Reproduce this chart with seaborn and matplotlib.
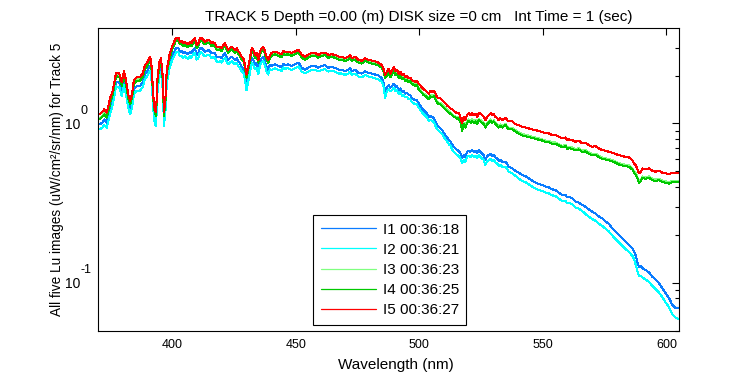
import numpy as np
import pandas as pd
import matplotlib
matplotlib.use("Agg")
import matplotlib.pyplot as plt
import matplotlib.transforms as mtransforms
import seaborn as sns
from matplotlib.ticker import LogLocator, NullFormatter

# ---------------- data ----------------
wavelength = [
    370.8, 371.8, 372.4, 373.4, 374.2, 375.0, 375.8, 377.2, 378.5, 379.5, 380.4, 381.2, 382.2, 382.9, 383.7, 384.4, 385.6,
    386.9, 388.0, 388.9, 389.9, 391.0, 391.6, 392.3, 392.9, 393.4, 393.9, 394.7, 395.4, 396.1, 396.6, 397.2, 397.7, 398.8, 399.8,
    400.7, 401.5, 402.4, 403.0, 403.7, 404.4, 405.0, 405.7, 406.4, 407.1, 407.7, 408.4, 409.1, 409.8, 410.4, 411.1, 411.8, 412.5,
    413.1, 413.8, 414.5, 415.2, 415.8, 416.5, 417.2, 417.9, 418.5, 419.2, 419.9, 420.6, 421.3, 421.9, 422.6, 423.3, 424.0, 424.6,
    425.3, 426.0, 426.7, 427.3, 428.0, 428.7, 429.4, 430.0, 430.7, 431.4, 432.1, 432.7, 433.4, 434.1, 434.8, 435.4, 436.1, 436.8,
    437.5, 438.1, 438.8, 439.5,
    440.2, 441.5, 442.9, 444.2, 444.9, 445.6, 446.9, 448.3, 449.6, 451.0, 451.7, 452.3, 453.7, 455.0, 456.4, 457.7, 459.1, 460.4,
    461.8, 463.1, 464.5, 465.8, 467.2, 468.5, 469.9, 471.3, 471.9, 472.6, 474.0, 475.3, 476.7, 478.0, 479.4, 480.7, 482.1, 483.4,
    484.8, 485.4, 486.1,
    486.9, 487.6, 488.2, 488.9, 489.6, 490.3, 490.9, 491.6, 492.3, 493.0, 493.6, 494.3, 495.0, 495.7, 496.3, 497.0, 498.4, 499.0,
    499.7, 501.1, 501.7, 502.4, 503.1, 503.8, 504.4, 505.1, 505.8, 506.5, 507.1, 507.8, 508.5, 509.2, 509.8, 510.5, 511.2, 511.9,
    512.6, 513.2, 513.9, 514.6, 515.3, 515.9, 516.6, 517.3, 517.9, 518.6, 519.3, 520.0, 520.7, 521.3, 522.0, 522.7, 523.4, 524.0,
    524.7, 525.4, 526.1, 526.7, 527.4, 528.1, 528.8, 529.4, 530.1, 530.8, 531.5, 532.1, 532.8, 533.5, 534.9, 535.5, 536.2, 537.6,
    538.9, 540.3, 541.6, 543.0, 544.3, 545.7, 547.0, 548.4, 549.7, 551.1, 552.4, 553.8, 555.1, 556.5, 557.8, 559.2, 559.9, 560.5,
    561.9, 563.2, 564.6, 565.9, 567.3, 568.6, 570.0, 571.3, 572.7, 574.0, 575.4, 576.7, 578.1, 579.4, 580.8, 582.1, 583.5, 584.8,
    586.2, 586.9, 587.5, 588.2, 588.9, 589.6, 590.3, 591.6, 593.0, 594.3, 595.7, 597.0, 598.4, 599.7, 601.1, 602.4, 603.8, 605.1,
]

lu_i1 = [
    0.99, 1.02, 1.06, 1.01, 1.14, 1.27, 1.40, 1.83, 1.81, 1.60, 1.88, 1.65, 1.33, 1.22, 1.36, 1.65, 1.72, 1.72, 1.81, 2.04,
    2.14, 2.31, 1.99, 1.29, 1.06, 1.04, 1.65, 2.14, 2.25, 1.72, 1.04, 1.29, 1.90, 2.36, 2.67,
    2.81, 2.99, 2.99, 2.83, 2.85, 2.76, 2.83, 2.76, 2.72, 2.83, 2.76, 2.90, 2.97, 2.69, 2.72, 2.97, 2.99, 2.90, 2.83, 2.85,
    2.90, 2.85, 2.76, 2.79, 2.76, 2.63, 2.60, 2.63, 2.57, 2.69, 2.76, 2.63, 2.51, 2.57, 2.63, 2.57, 2.51, 2.57, 2.45, 2.40,
    2.27, 2.22, 2.02, 1.75, 1.96, 2.22, 2.57, 2.51, 2.34, 2.40, 2.17, 2.45, 2.57, 2.63, 2.45, 2.27, 2.17, 2.34,
    2.30, 2.35, 2.30, 2.26, 2.37, 2.33, 2.35, 2.30, 2.35, 2.41, 2.33, 2.24, 2.18, 2.24, 2.30, 2.30, 2.24, 2.30, 2.32, 2.24,
    2.26, 2.24, 2.18, 2.18, 2.13, 2.18, 2.24, 2.13, 2.18, 2.08, 2.06, 2.13, 2.08, 2.06, 2.03, 2.00, 1.93, 1.84, 1.60,
    1.70, 1.74, 1.68, 1.72, 1.78, 1.70, 1.72, 1.62, 1.66, 1.58, 1.60, 1.54, 1.56, 1.51, 1.51, 1.44, 1.40, 1.40, 1.34, 1.24,
    1.21, 1.18, 1.16, 1.10, 1.11, 1.10, 1.08, 1.03, 0.977, 0.953, 0.931, 0.909, 0.874, 0.845, 0.817, 0.786, 0.768, 0.743, 0.714, 0.697,
    0.681, 0.674, 0.649, 0.604, 0.633, 0.618, 0.665, 0.671, 0.665, 0.681, 0.665, 0.674, 0.655, 0.681, 0.665, 0.649, 0.633, 0.589, 0.624, 0.633,
    0.643, 0.624, 0.633, 0.612, 0.604, 0.583, 0.589, 0.575, 0.575, 0.556, 0.535, 0.522, 0.505, 0.491, 0.474, 0.467, 0.452, 0.437, 0.425, 0.417,
    0.411, 0.401, 0.397, 0.386, 0.382, 0.368, 0.355, 0.355, 0.344, 0.347, 0.339, 0.323, 0.318, 0.308, 0.300, 0.289, 0.279, 0.273, 0.260, 0.254,
    0.242, 0.234, 0.220, 0.209, 0.1995, 0.190, 0.181, 0.173, 0.165, 0.157, 0.1495, 0.136, 0.1263, 0.1275, 0.1233, 0.1204, 0.1158, 0.1093, 0.1042, 0.0993,
    0.0924, 0.0860, 0.0800, 0.0726, 0.0692, 0.0692,
]

lu_i2 = [
    0.92, 0.95, 0.98, 0.94, 1.06, 1.18, 1.30, 1.71, 1.69, 1.49, 1.75, 1.53, 1.24, 1.14, 1.26, 1.53, 1.61, 1.61, 1.69, 1.90,
    1.99, 2.15, 1.85, 1.21, 0.99, 0.97, 1.53, 1.99, 2.10, 1.61, 0.97, 1.21, 1.77, 2.20, 2.48,
    2.63, 2.80, 2.80, 2.65, 2.67, 2.58, 2.65, 2.58, 2.54, 2.65, 2.58, 2.71, 2.78, 2.52, 2.54, 2.78, 2.80, 2.71, 2.65, 2.67,
    2.71, 2.67, 2.58, 2.62, 2.58, 2.46, 2.43, 2.46, 2.41, 2.52, 2.58, 2.46, 2.35, 2.41, 2.46, 2.41, 2.35, 2.41, 2.29, 2.24,
    2.13, 2.08, 1.89, 1.62, 1.84, 2.08, 2.41, 2.35, 2.19, 2.24, 2.03, 2.29, 2.41, 2.46, 2.29, 2.13, 2.03, 2.19,
    2.17, 2.22, 2.17, 2.14, 2.25, 2.21, 2.22, 2.17, 2.22, 2.28, 2.21, 2.12, 2.06, 2.12, 2.17, 2.17, 2.12, 2.17, 2.19, 2.12,
    2.14, 2.12, 2.06, 2.06, 2.02, 2.06, 2.12, 2.02, 2.06, 1.97, 1.95, 2.02, 1.97, 1.95, 1.92, 1.89, 1.83, 1.74, 1.45,
    1.60, 1.64, 1.59, 1.62, 1.68, 1.60, 1.62, 1.53, 1.57, 1.49, 1.51, 1.46, 1.47, 1.42, 1.42, 1.36, 1.32, 1.32, 1.26, 1.17,
    1.15, 1.12, 1.09, 1.04, 1.05, 1.04, 1.02, 0.968, 0.922, 0.900, 0.879, 0.858, 0.825, 0.798, 0.771, 0.742, 0.725, 0.691, 0.664, 0.648,
    0.633, 0.627, 0.604, 0.562, 0.589, 0.575, 0.618, 0.624, 0.618, 0.633, 0.618, 0.627, 0.609, 0.633, 0.618, 0.604, 0.589, 0.548, 0.580, 0.589,
    0.598, 0.580, 0.589, 0.569, 0.562, 0.542, 0.548, 0.535, 0.535, 0.517, 0.498, 0.485, 0.470, 0.450, 0.435, 0.428, 0.414, 0.401, 0.390, 0.382,
    0.377, 0.368, 0.364, 0.354, 0.350, 0.337, 0.326, 0.326, 0.315, 0.318, 0.311, 0.296, 0.292, 0.282, 0.270, 0.260, 0.251, 0.245, 0.234, 0.228,
    0.218, 0.210, 0.198, 0.188, 0.179, 0.171, 0.163, 0.156, 0.148, 0.141, 0.131, 0.119, 0.110, 0.111, 0.108, 0.105, 0.101, 0.0955, 0.0911, 0.0868,
    0.0808, 0.0752, 0.0699, 0.0635, 0.0605, 0.0590,
]

lu_i3 = [
    1.09, 1.13, 1.17, 1.11, 1.25, 1.41, 1.54, 2.02, 2.00, 1.77, 2.08, 1.81, 1.46, 1.35, 1.49, 1.81, 1.90, 1.90, 2.00, 2.25,
    2.36, 2.54, 2.19, 1.43, 1.17, 1.14, 1.81, 2.36, 2.48, 1.90, 1.14, 1.43, 2.10, 2.60, 2.94,
    3.17, 3.37, 3.37, 3.19, 3.22, 3.11, 3.19, 3.11, 3.06, 3.19, 3.11, 3.27, 3.34, 3.03, 3.06, 3.34, 3.37, 3.27, 3.19, 3.22,
    3.27, 3.22, 3.11, 3.15, 3.11, 2.96, 2.93, 2.96, 2.90, 3.03, 3.11, 2.96, 2.83, 2.90, 2.96, 2.90, 2.83, 2.90, 2.76, 2.70,
    2.56, 2.51, 2.27, 1.97, 2.21, 2.51, 2.90, 2.83, 2.63, 2.70, 2.45, 2.76, 2.90, 2.96, 2.76, 2.56, 2.45, 2.63,
    2.70, 2.76, 2.70, 2.65, 2.79, 2.74, 2.76, 2.70, 2.76, 2.83, 2.74, 2.63, 2.56, 2.63, 2.70, 2.70, 2.63, 2.70, 2.72, 2.63,
    2.65, 2.63, 2.56, 2.56, 2.51, 2.56, 2.63, 2.51, 2.56, 2.45, 2.42, 2.51, 2.45, 2.42, 2.39, 2.35, 2.27, 2.16, 1.97,
    2.03, 2.13, 1.98, 2.06, 2.18, 2.06, 2.10, 1.96, 2.03, 1.93, 1.96, 1.89, 1.91, 1.84, 1.87, 1.80, 1.76, 1.78, 1.67, 1.58,
    1.54, 1.52, 1.48, 1.45, 1.51, 1.48, 1.51, 1.45, 1.38, 1.35, 1.35, 1.32, 1.29, 1.25, 1.22, 1.20, 1.17, 1.15, 1.12, 1.11,
    1.09, 1.10, 1.04, 0.917, 1.01, 0.963, 1.03, 1.06, 1.03, 1.06, 1.03, 1.05, 1.01, 1.07, 1.05, 1.03, 1.01, 0.963, 1.01, 1.03,
    1.06, 1.03, 1.05, 1.01, 0.986, 0.963, 0.986, 0.963, 0.996, 0.963, 0.940, 0.940, 0.909, 0.878, 0.857, 0.849, 0.837, 0.825, 0.817, 0.806,
    0.797, 0.779, 0.779, 0.760, 0.760, 0.742, 0.725, 0.734, 0.707, 0.714, 0.707, 0.690, 0.700, 0.674, 0.681, 0.658, 0.642, 0.648, 0.627, 0.612,
    0.606, 0.598, 0.589, 0.578, 0.564, 0.556, 0.551, 0.545, 0.525, 0.501, 0.488, 0.465, 0.433, 0.444, 0.465, 0.459, 0.465, 0.450, 0.444, 0.450,
    0.437, 0.433, 0.429, 0.437, 0.437, 0.437,
]

lu_i4 = [
    1.07, 1.11, 1.14, 1.09, 1.23, 1.38, 1.51, 1.98, 1.96, 1.73, 2.03, 1.78, 1.43, 1.32, 1.46, 1.78, 1.86, 1.86, 1.96, 2.20,
    2.31, 2.49, 2.15, 1.40, 1.15, 1.12, 1.78, 2.31, 2.43, 1.86, 1.12, 1.40, 2.05, 2.55, 2.88,
    3.12, 3.32, 3.32, 3.14, 3.17, 3.06, 3.14, 3.06, 3.01, 3.14, 3.06, 3.22, 3.29, 2.99, 3.01, 3.29, 3.32, 3.22, 3.14, 3.17,
    3.22, 3.17, 3.06, 3.10, 3.06, 2.92, 2.88, 2.92, 2.85, 2.99, 3.06, 2.92, 2.78, 2.85, 2.92, 2.85, 2.78, 2.85, 2.72, 2.66,
    2.52, 2.47, 2.24, 1.94, 2.18, 2.47, 2.85, 2.78, 2.59, 2.66, 2.41, 2.72, 2.85, 2.92, 2.72, 2.52, 2.41, 2.59,
    2.66, 2.72, 2.66, 2.61, 2.75, 2.70, 2.72, 2.66, 2.72, 2.78, 2.70, 2.59, 2.52, 2.59, 2.66, 2.66, 2.59, 2.66, 2.68, 2.59,
    2.61, 2.59, 2.52, 2.52, 2.47, 2.52, 2.59, 2.47, 2.52, 2.41, 2.38, 2.47, 2.41, 2.38, 2.35, 2.31, 2.24, 2.13, 1.94,
    1.99, 2.09, 1.95, 2.02, 2.14, 2.02, 2.06, 1.93, 1.99, 1.90, 1.93, 1.85, 1.87, 1.81, 1.84, 1.77, 1.72, 1.75, 1.64, 1.55,
    1.51, 1.49, 1.46, 1.42, 1.48, 1.46, 1.48, 1.42, 1.35, 1.32, 1.32, 1.29, 1.26, 1.23, 1.20, 1.17, 1.15, 1.13, 1.10, 1.09,
    1.07, 1.08, 1.02, 0.899, 0.991, 0.944, 1.01, 1.04, 1.01, 1.04, 1.01, 1.03, 0.991, 1.05, 1.03, 1.01, 0.991, 0.944, 0.991, 1.01,
    1.04, 1.01, 1.03, 0.991, 0.966, 0.944, 0.966, 0.944, 0.976, 0.944, 0.921, 0.921, 0.891, 0.862, 0.841, 0.833, 0.821, 0.810, 0.802, 0.790,
    0.782, 0.764, 0.764, 0.745, 0.745, 0.728, 0.711, 0.721, 0.693, 0.700, 0.693, 0.677, 0.687, 0.662, 0.668, 0.646, 0.630, 0.636, 0.615, 0.601,
    0.594, 0.587, 0.578, 0.567, 0.553, 0.545, 0.540, 0.535, 0.515, 0.491, 0.479, 0.456, 0.425, 0.435, 0.456, 0.450, 0.456, 0.441, 0.435, 0.441,
    0.429, 0.425, 0.420, 0.429, 0.429, 0.429,
]

lu_i5 = [
    1.15, 1.19, 1.23, 1.17, 1.32, 1.48, 1.59, 2.08, 2.06, 1.82, 2.14, 1.87, 1.51, 1.39, 1.54, 1.87, 1.96, 1.96, 2.06, 2.32,
    2.43, 2.62, 2.26, 1.47, 1.21, 1.18, 1.87, 2.43, 2.56, 1.96, 1.18, 1.47, 2.16, 2.68, 3.03,
    3.25, 3.46, 3.46, 3.27, 3.30, 3.19, 3.27, 3.19, 3.14, 3.27, 3.19, 3.35, 3.43, 3.11, 3.14, 3.43, 3.46, 3.35, 3.27, 3.30,
    3.35, 3.30, 3.19, 3.23, 3.19, 3.04, 3.00, 3.04, 2.97, 3.11, 3.19, 3.04, 2.90, 2.97, 3.04, 2.97, 2.90, 2.97, 2.83, 2.77,
    2.63, 2.57, 2.33, 2.02, 2.27, 2.57, 2.97, 2.90, 2.70, 2.77, 2.51, 2.83, 2.97, 3.04, 2.83, 2.63, 2.51, 2.70,
    2.77, 2.83, 2.77, 2.72, 2.86, 2.81, 2.83, 2.77, 2.83, 2.90, 2.81, 2.70, 2.63, 2.70, 2.77, 2.77, 2.70, 2.77, 2.79, 2.70,
    2.72, 2.70, 2.63, 2.63, 2.57, 2.63, 2.70, 2.57, 2.63, 2.51, 2.48, 2.57, 2.51, 2.48, 2.45, 2.41, 2.33, 2.22, 2.02,
    2.11, 2.21, 2.06, 2.14, 2.27, 2.14, 2.18, 2.04, 2.11, 2.01, 2.04, 1.96, 1.98, 1.92, 1.94, 1.87, 1.83, 1.85, 1.78, 1.68,
    1.64, 1.62, 1.58, 1.54, 1.60, 1.58, 1.60, 1.54, 1.47, 1.44, 1.44, 1.40, 1.37, 1.34, 1.30, 1.27, 1.24, 1.23, 1.20, 1.18,
    1.16, 1.17, 1.10, 1.00, 1.10, 1.05, 1.13, 1.16, 1.13, 1.16, 1.13, 1.15, 1.10, 1.17, 1.15, 1.13, 1.10, 1.05, 1.10, 1.13,
    1.16, 1.13, 1.15, 1.10, 1.08, 1.05, 1.08, 1.05, 1.09, 1.05, 1.03, 1.03, 0.991, 0.977, 0.953, 0.944, 0.931, 0.918, 0.909, 0.896,
    0.887, 0.866, 0.866, 0.845, 0.845, 0.825, 0.806, 0.817, 0.786, 0.794, 0.786, 0.768, 0.779, 0.750, 0.757, 0.732, 0.714, 0.721, 0.697, 0.681,
    0.674, 0.665, 0.655, 0.643, 0.633, 0.624, 0.618, 0.612, 0.589, 0.562, 0.548, 0.522, 0.486, 0.498, 0.522, 0.515, 0.522, 0.505, 0.498, 0.505,
    0.491, 0.486, 0.481, 0.491, 0.491, 0.491,
]

series_labels = ["I1 00:36:18", "I2 00:36:21", "I3 00:36:23", "I4 00:36:25", "I5 00:36:27"]
series_colors = ["#0A7CFF", "#00FFFF", "#80FF80", "#00C800", "#FF0000"]
x_ticks = [400, 450, 500, 550, 600]
y_tick_exponents = [-1, 0]
title_text = "TRACK 5 Depth =0.00 (m) DISK size =0 cm   Int Time = 1 (sec)"
x_label = "Wavelength (nm)"
y_label = "All five Lu images (uW/cm\u00b2/sr/nm) for Track 5"

series_values = [lu_i1, lu_i2, lu_i3, lu_i4, lu_i5]
for s in series_values:
    assert len(s) == len(wavelength), (len(s), len(wavelength))

df = pd.concat(
    [pd.DataFrame({"wl": wavelength, "val": v, "series": lab})
     for v, lab in zip(series_values, series_labels)],
    ignore_index=True,
)

# ---------------- style ----------------
sns.set_theme(style="white")
plt.rcParams["font.family"] = ["Liberation Sans", "DejaVu Sans"]

W, H = 750, 375
fig = plt.figure(figsize=(7.5, 3.75), dpi=100, facecolor="white")
ax = fig.add_axes([98.3 / W, 44 / H, 580.7 / W, 302.7 / H])
ax.set_facecolor("white")

sns.lineplot(
    data=df, x="wl", y="val", hue="series", hue_order=series_labels,
    palette=dict(zip(series_labels, series_colors)), estimator=None, sort=False,
    linewidth=0.75, antialiased=False, ax=ax,
)

ax.set_yscale("log")
ax.set_xlim(370.0, 605.1)
ax.set_ylim(0.0498, 3.96)
ax.set_xticks(x_ticks)
ax.set_xticklabels([str(t) for t in x_ticks])
ax.yaxis.set_major_locator(LogLocator(base=10))
ax.yaxis.set_minor_locator(LogLocator(base=10, subs=np.arange(2, 10)))
ax.yaxis.set_major_formatter(NullFormatter())
ax.yaxis.set_minor_formatter(NullFormatter())
ax.tick_params(which="both", direction="in", top=True, right=True,
               colors="black", labelsize=9, width=0.8)
ax.tick_params(which="major", length=5, pad=6)
ax.tick_params(which="minor", length=3)
ax.set_xlabel("")
ax.set_ylabel("")
for sp in ax.spines.values():
    sp.set_visible(True)
    sp.set_color("black")
    sp.set_linewidth(0.8)

# y tick labels in MATLAB style: "10" with a raised exponent
ytrans = mtransforms.blended_transform_factory(fig.transFigure, ax.transData)
for e in y_tick_exponents:
    base_tr = ytrans + mtransforms.ScaledTranslation(0, -1.5 / 100, fig.dpi_scale_trans)
    sup_tr = ytrans + mtransforms.ScaledTranslation(0, 12.5 / 100, fig.dpi_scale_trans)
    fig.text(80.5 / W, 10.0 ** e, "10", transform=base_tr, ha="right", va="center",
             fontsize=10, color="black")
    fig.text(80.5 / W, 10.0 ** e, str(e), transform=sup_tr, ha="left", va="center",
             fontsize=9, color="black")

fig.text(418.6 / W, 1 - 17 / H, title_text, ha="center", va="center", fontsize=11, color="black")
fig.text(395.5 / W, 1 - 365 / H, x_label, ha="center", va="center", fontsize=11, color="black")
fig.text(57.5 / W, 1 - 179.5 / H, y_label, ha="center", va="center", rotation=90, fontsize=9.8, color="black")

handles, labels = ax.get_legend_handles_labels()
leg = ax.legend(
    handles, labels, loc="upper left", bbox_to_anchor=(313 / W, 1 - 215 / H),
    bbox_transform=fig.transFigure, borderaxespad=0, frameon=True, fancybox=False,
    shadow=False, edgecolor="black", facecolor="white", framealpha=1, fontsize=11,
    handlelength=3.6, handletextpad=0.45, borderpad=0.5, labelspacing=0.40,
)
leg.get_frame().set_linewidth(0.8)
for t in leg.get_texts():
    t.set_color("black")
for h in leg.get_lines():
    h.set_linewidth(0.9)

fig.savefig("out.png", dpi=100, facecolor="white")
